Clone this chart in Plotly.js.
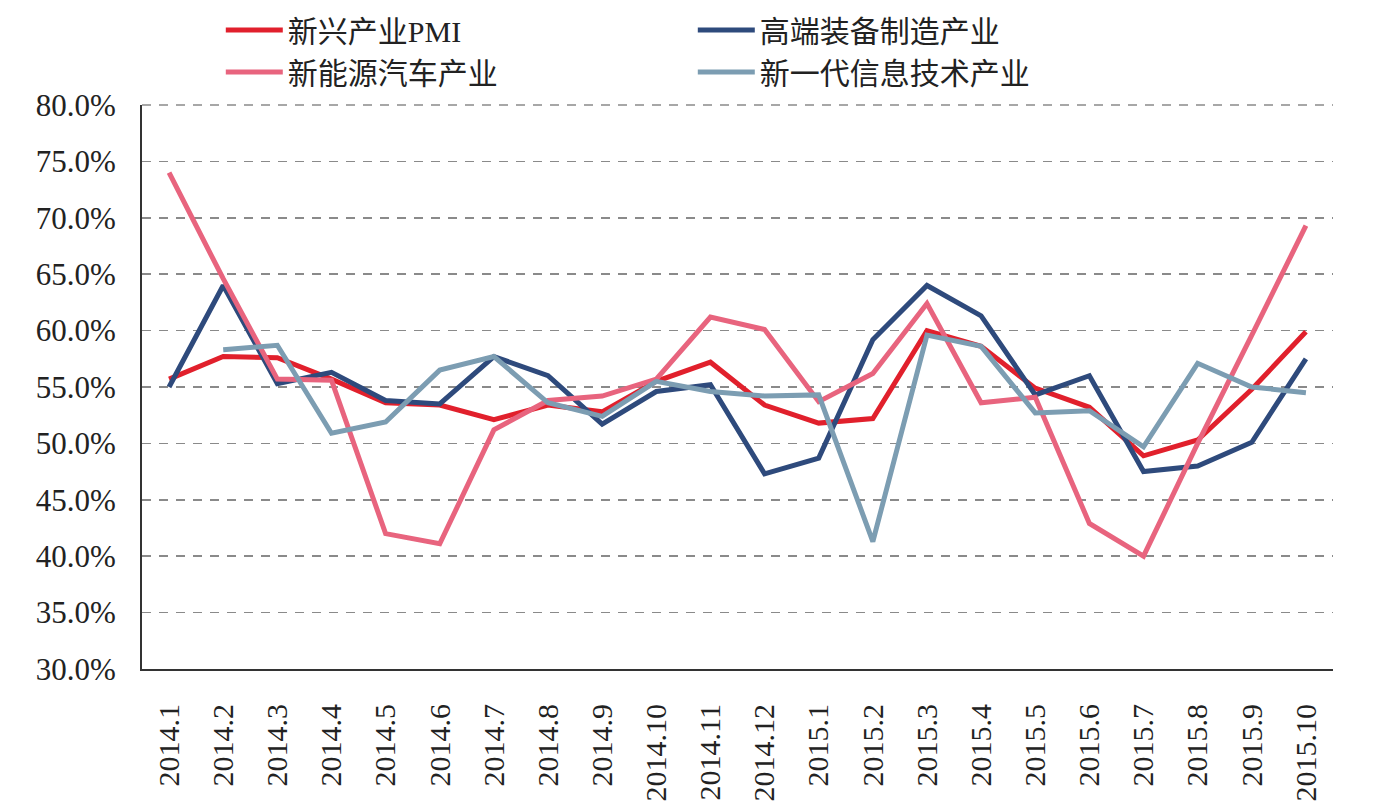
<!DOCTYPE html>
<html>
<head>
<meta charset="utf-8">
<script src="https://cdn.plot.ly/plotly-3.0.1.min.js"></script>
<style>
  html, body { margin: 0; padding: 0; background: #fff; }
  #chart { width: 1380px; height: 812px; }
</style>
</head>
<body>
<div id="chart"></div>
<script>
// Monthly categories, 2014.1 – 2015.10
const months = [
  '2014.1','2014.2','2014.3','2014.4','2014.5','2014.6','2014.7','2014.8','2014.9','2014.10','2014.11',
  '2014.12','2015.1','2015.2','2015.3','2015.4','2015.5','2015.6','2015.7','2015.8','2015.9','2015.10'
];

// Index values, in percent
const emergingPMI = [55.7, 57.7, 57.6, 55.7, 53.6, 53.4, 52.1, 53.4, 52.8, 55.5, 57.2,
                     53.4, 51.8, 52.2, 60.0, 58.6, 54.9, 53.2, 48.9, 50.3, 54.8, 59.9];
const highEndEquip = [55.0, 64.0, 55.3, 56.3, 53.8, 53.5, 57.7, 56.0, 51.7, 54.6, 55.2,
                      47.3, 48.7, 59.2, 64.0, 61.3, 54.3, 56.0, 47.5, 48.0, 50.1, 57.5];
const newEnergyAuto = [74.0, 64.6, 55.7, 55.6, 42.0, 41.1, 51.2, 53.8, 54.2, 55.7, 61.2,
                       60.1, 53.7, 56.2, 62.4, 53.6, 54.1, 42.9, 40.0, 50.0, 59.6, 69.3];
const nextGenIT = [null, 58.3, 58.7, 50.9, 51.9, 56.5, 57.7, 53.6, 52.4, 55.5, 54.6,
                   54.2, 54.3, 41.3, 59.6, 58.6, 52.7, 52.9, 49.7, 57.1, 55.0, 54.5];

const seriesNames = ['新兴产业PMI', '高端装备制造产业', '新能源汽车产业', '新一代信息技术产业'];
const seriesColors = ['#E1202C', '#2E4A7C', '#E8647E', '#7C9DB2'];
const yTicks = [30, 35, 40, 45, 50, 55, 60, 65, 70, 75, 80];
const yMax = 80;

const serif = '"Liberation Serif", "Times New Roman", "Noto Sans CJK SC", serif';
const gridColor = '#8a8a8a';
const gridDash = '9px,8px';

// Trace order gives the legend layout: PMI, 高端装备 on row one, 新能源, 新一代 on row two
const order = [
  [emergingPMI, 0],
  [highEndEquip, 1],
  [newEnergyAuto, 2],
  [nextGenIT, 3]
];

const traces = order.map(([vals, i]) => ({
  type: 'scatter',
  mode: 'lines',
  x: months,
  y: vals,
  name: seriesNames[i],
  line: { color: seriesColors[i], width: 5, shape: 'linear' },
  connectgaps: false,
  hoverinfo: 'x+y+name'
}));

const layout = {
  width: 1380,
  height: 812,
  paper_bgcolor: '#ffffff',
  plot_bgcolor: '#ffffff',
  margin: { l: 142, r: 47, t: 105, b: 143, pad: 0 },
  font: { family: serif, color: '#222', size: 31 },
  showlegend: true,
  legend: {
    orientation: 'h',
    xref: 'container',
    yref: 'container',
    x: 0.16,
    xanchor: 'left',
    y: 0.995,
    yanchor: 'top',
    entrywidth: 400,
    entrywidthmode: 'pixels',
    itemwidth: 57,
    tracegroupgap: 0,
    font: { family: serif, size: 30, color: '#222' },
    bgcolor: 'rgba(0,0,0,0)'
  },
  // top gridline (at the upper end of the range) drawn on the plot edge
  shapes: [{
    type: 'line',
    xref: 'paper', x0: 0, x1: 1,
    yref: 'paper', y0: 1, y1: 1,
    line: { color: gridColor, width: 1.5, dash: gridDash },
    layer: 'above'
  }],
  xaxis: {
    type: 'category',
    categoryorder: 'array',
    categoryarray: months,
    tickvals: months,
    ticktext: months,
    range: [-0.5, months.length - 0.5],
    tickangle: -90,
    showgrid: false,
    zeroline: false,
    showline: true,
    linecolor: '#333',
    linewidth: 2,
    ticks: '',
    ticklabelstandoff: 21,
    tickfont: { family: serif, size: 30, color: '#222' }
  },
  yaxis: {
    range: [30, yMax],
    tickvals: yTicks,
    ticktext: yTicks.map(v => v.toFixed(1) + '%'),
    showgrid: true,
    gridcolor: gridColor,
    gridwidth: 1.5,
    griddash: gridDash,
    zeroline: false,
    showline: true,
    linecolor: '#333',
    linewidth: 2,
    ticks: '',
    ticklabelstandoff: 18,
    tickfont: { family: serif, size: 31, color: '#222' }
  }
};

Plotly.newPlot('chart', traces, layout, { displayModeBar: false, staticPlot: true });
</script>
</body>
</html>
